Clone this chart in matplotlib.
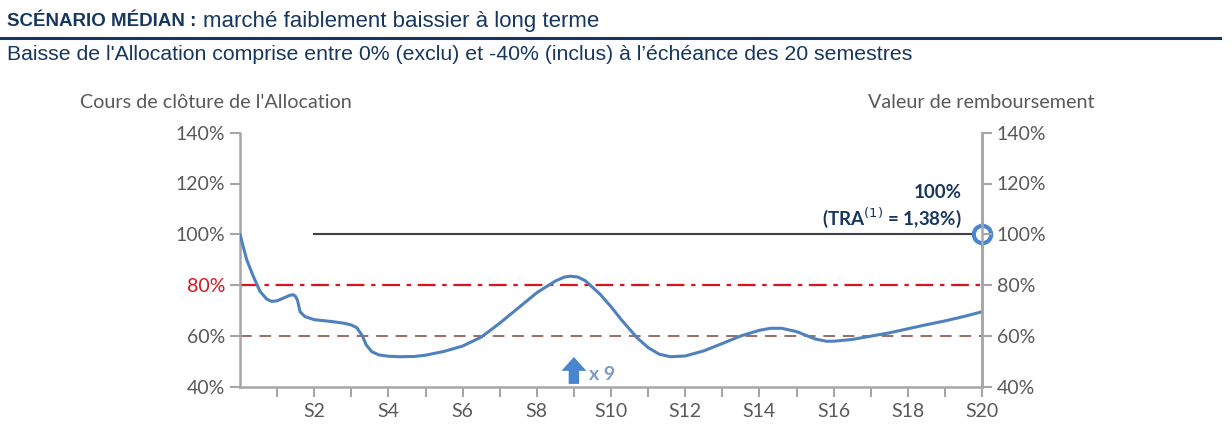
import numpy as np
import matplotlib.pyplot as plt

# Donnees
semestres = [0, 0.18, 0.36, 0.54, 0.72, 0.85, 1.0, 1.17, 1.35, 1.44, 1.5, 1.55, 1.62,
             1.75, 2.0, 2.5, 2.8, 3.0, 3.15, 3.3, 3.4, 3.55, 3.75, 4.0, 4.3, 4.7,
             5.0, 5.5, 6.0, 6.5, 7.0, 7.5, 8.0, 8.5, 8.75, 8.9, 9.1, 9.3, 9.7,
             10.0, 10.3, 10.7, 11.0, 11.3, 11.6, 12.0, 12.5, 13.0, 13.5, 14.0,
             14.3, 14.6, 15.0, 15.5, 15.8, 16.0, 16.5, 17.0, 17.5, 18.0, 18.5,
             19.0, 19.5, 20.0]
cours = [100, 90, 83.4, 77.5, 74.5, 73.6, 73.8, 74.9, 76.0, 76.2, 75.5, 74.0, 69.5,
         67.6, 66.4, 65.6, 65.0, 64.3, 63.2, 60.0, 56.5, 53.8, 52.5, 52.0, 51.8, 51.9,
         52.4, 53.9, 56.0, 59.5, 65.0, 71.0, 77.0, 81.6, 83.2, 83.5, 83.2, 81.8, 76.5,
         71.5, 66.0, 59.3, 55.4, 52.8, 51.8, 52.1, 54.1, 57.0, 60.0, 62.2,
         63.0, 63.0, 61.7, 58.8, 57.9, 57.9, 58.6, 59.9, 61.2, 62.8, 64.4,
         65.9, 67.6, 69.5]
seuil_coupon = 80
seuil_capital = 60
remboursement = 100
debut_remb = 2
fin_remb = 20
sem_coupon = 9
yticks = [40, 60, 80, 100, 120, 140]
xlabels = ["S%d" % i if i % 2 == 0 else "" for i in range(1, 21)]

navy = "#17375e"
gris = "#595959"
bleu = "#4f81bd"

fig = plt.figure(figsize=(12.32, 4.41), dpi=100)

# Titres
titre = fig.text(7/1232, 1-22/441, "SCÉNARIO MÉDIAN :", fontsize=13.5, fontweight="bold",
                 color=navy, family="Liberation Sans", va="center")
fig.canvas.draw()
fin_titre = titre.get_window_extent().x1
fig.text((fin_titre + 7)/1232, 1-22/441, "marché faiblement baissier à long terme",
         fontsize=16, color=navy, family="Liberation Sans", va="center")
fig.add_artist(plt.Line2D([0, 1220/1232], [1-38/441, 1-38/441], color=navy, lw=2.2))
fig.text(7/1232, 1-55/441,
         "Baisse de l'Allocation comprise entre 0% (exclu) et -40% (inclus) à l’échéance des 20 semestres",
         fontsize=15.3, color=navy, family="Liberation Sans", va="center")

ax = fig.add_axes([240/1232, 54.3/441, 742/1232, 254/441])
ax.set_xlim(0, 20)
ax.set_ylim(40, 140)

ax.axhline(seuil_coupon, color="#d9141e", lw=1.6, dashes=(8, 3, 2, 3))
ax.axhline(seuil_capital, color="#9c6b62", lw=1.4, dashes=(6, 4))
ax.plot([debut_remb, fin_remb - 0.2], [remboursement, remboursement], color="#404040", lw=1.5)
ax.plot(semestres, cours, color=bleu, lw=2.2, solid_capstyle="round",
        solid_joinstyle="round", zorder=4)
ax.plot([fin_remb], [remboursement], "o", ms=12.5, mfc="white", mec="#4a86d0", mew=3,
        clip_on=False, zorder=6)

ax.annotate("", xy=(sem_coupon, 52.8), xytext=(sem_coupon, 40),
            arrowprops=dict(arrowstyle="simple,head_width=1.8,head_length=1.0,tail_width=0.75",
                            color="#4a86d0", lw=0), zorder=5)
ax.text(sem_coupon + 0.42, 44.8, "x 9", fontsize=14, fontweight="bold", color="#7b9bc6",
        family="Lato", va="center")

ax.text(19.45, 116.4, "100%", fontsize=13.5, fontweight="bold", color=navy, family="Lato",
        ha="right", va="center")
ax.text(19.45, 106.5, "(TRA$^{(1)}$ = 1,38%)", fontsize=13.5, fontweight="bold", color=navy,
        family="Lato", ha="right", va="center")

ax.spines["top"].set_visible(False)
for s in ["left", "right", "bottom"]:
    ax.spines[s].set_color("#a6a6a6")
    ax.spines[s].set_linewidth(1.8)

ax.set_yticks(yticks)
ax.set_yticklabels(["%d%%" % v for v in yticks])
ax.set_xticks(range(1, 21))
ax.set_xticklabels(xlabels)
ax.tick_params(axis="both", colors="#a6a6a6", labelcolor=gris, labelsize=14,
               width=1.5, length=7, direction="out")
ax.tick_params(axis="x", pad=5)
for lab in ax.get_yticklabels() + ax.get_xticklabels():
    lab.set_family("Lato")
for lab in ax.get_yticklabels():
    if lab.get_text() == "80%":
        lab.set_color("#d9141e")

ax2 = ax.twinx()
ax2.set_ylim(40, 140)
ax2.set_yticks(yticks)
ax2.set_yticklabels(["%d%%" % v for v in yticks])
ax2.tick_params(axis="y", colors="#a6a6a6", labelcolor=gris, labelsize=14,
                width=1.5, length=7)
for lab in ax2.get_yticklabels():
    lab.set_family("Lato")
for s in ["top", "left", "bottom"]:
    ax2.spines[s].set_visible(False)
ax2.spines["right"].set_color("#a6a6a6")
ax2.spines["right"].set_linewidth(1.8)

fig.text(80/1232, 1-102/441, "Cours de clôture de l'Allocation", fontsize=14.2,
         color=gris, family="Lato", va="center")
fig.text(1095/1232, 1-102/441, "Valeur de remboursement", fontsize=14.2,
         color=gris, family="Lato", va="center", ha="right")

fig.savefig("out.png", dpi=100)
